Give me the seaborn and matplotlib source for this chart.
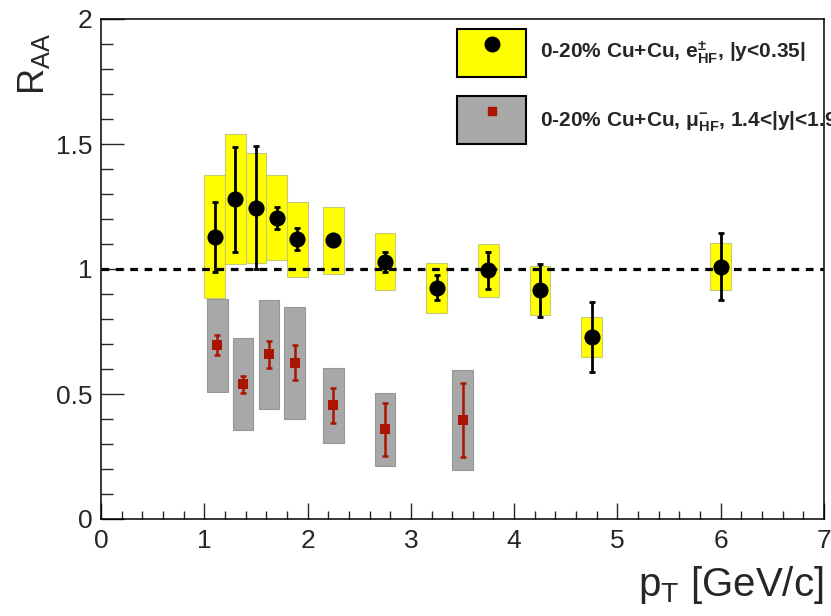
import numpy as np
import pandas as pd
import matplotlib
matplotlib.use("Agg")
import matplotlib.pyplot as plt
import seaborn as sns
from matplotlib.patches import Rectangle
from matplotlib.lines import Line2D
from matplotlib.legend_handler import HandlerTuple
from matplotlib.ticker import MultipleLocator

# Heavy-flavour electrons, |y| < 0.35
e_pt = [1.1, 1.3, 1.5, 1.7, 1.9, 2.25, 2.75, 3.25, 3.75, 4.25, 4.75, 6.0]
e_raa = [1.13, 1.28, 1.245, 1.205, 1.12, 1.115, 1.03, 0.925, 0.995, 0.915, 0.73, 1.01]
e_stat = [0.14, 0.21, 0.245, 0.045, 0.045, 0.01, 0.04, 0.05, 0.075, 0.105, 0.14, 0.135]
e_syst = [0.245, 0.26, 0.22, 0.17, 0.15, 0.135, 0.115, 0.10, 0.105, 0.098, 0.08, 0.094]

# Heavy-flavour muons, 1.4 < |y| < 1.9
mu_pt = [1.125, 1.375, 1.625, 1.875, 2.25, 2.75, 3.5]
mu_raa = [0.695, 0.54, 0.66, 0.625, 0.455, 0.36, 0.395]
mu_stat = [0.04, 0.034, 0.054, 0.07, 0.07, 0.106, 0.148]
mu_syst = [0.186, 0.184, 0.218, 0.224, 0.15, 0.146, 0.20]

e_label = r"0-20% Cu+Cu, $\mathbf{e^{\pm}_{HF}}$, |y<0.35|"
mu_label = r"0-20% Cu+Cu, $\mathbf{\mu^{-}_{HF}}$, 1.4<|y|<1.9"

x_ticks = [0, 1, 2, 3, 4, 5, 6, 7]
y_ticks = [0, 0.5, 1, 1.5, 2]
y_tick_labels = ["0", "0.5", "1", "1.5", "2"]

sns.set_style("white")
plt.rcParams["font.family"] = ["Liberation Sans", "DejaVu Sans"]
plt.rcParams["mathtext.fontset"] = "custom"
plt.rcParams["mathtext.rm"] = "Liberation Sans"
plt.rcParams["mathtext.it"] = "Liberation Sans:italic"
plt.rcParams["mathtext.bf"] = "Liberation Sans:bold"

df_e = pd.DataFrame({"pt": e_pt, "raa": e_raa, "stat": e_stat, "syst": e_syst})
df_mu = pd.DataFrame({"pt": mu_pt, "raa": mu_raa, "stat": mu_stat, "syst": mu_syst})

W, H = 831, 616
fig = plt.figure(figsize=(W / 100, H / 100), dpi=100)
ax = fig.add_axes([101 / W, 1 - 519 / H, (824 - 101) / W, (519 - 19) / H])

yellow = "#ffff00"
gray = "#a8a8a8"
red = "#aa1400"

# systematic boxes
ax.bar(df_e["pt"], 2 * df_e["syst"], bottom=df_e["raa"] - df_e["syst"], width=0.2,
       color=yellow, edgecolor="#c8c878", linewidth=0.8, zorder=1)
ax.bar(df_mu["pt"], 2 * df_mu["syst"], bottom=df_mu["raa"] - df_mu["syst"], width=0.2,
       color=gray, edgecolor="#969696", linewidth=0.8, zorder=1)

# unity reference line
ax.axhline(1.0, color="black", lw=2.3, ls=(0, (2.4, 2.1)), zorder=3)

# statistical errors
ax.errorbar(df_e["pt"], df_e["raa"], yerr=df_e["stat"], fmt="none", ecolor="black",
            elinewidth=2.0, capsize=2.3, capthick=2.0, zorder=4)
ax.errorbar(df_mu["pt"], df_mu["raa"], yerr=df_mu["stat"], fmt="none", ecolor=red,
            elinewidth=1.8, capsize=2.3, capthick=1.8, zorder=4)

# central values
sns.scatterplot(data=df_e, x="pt", y="raa", marker="o", s=135, color="black",
                edgecolor="black", linewidth=0, ax=ax, zorder=5)
sns.scatterplot(data=df_mu, x="pt", y="raa", marker="s", s=60, color=red,
                edgecolor=red, linewidth=0, ax=ax, zorder=5)

ax.set_xlim(0, 7)
ax.set_ylim(0, 2)
ax.set_xticks(x_ticks)
ax.set_yticks(y_ticks)
ax.set_yticklabels(y_tick_labels)
ax.xaxis.set_minor_locator(MultipleLocator(0.2))
ax.yaxis.set_minor_locator(MultipleLocator(0.1))
ax.tick_params(axis="x", which="major", direction="in", length=11.5, width=1.0,
               labelsize=19, pad=7, bottom=True, top=False)
ax.tick_params(axis="x", which="minor", direction="in", length=6, width=1.0,
               bottom=True, top=False)
ax.tick_params(axis="y", which="major", direction="in", length=16.5, width=1.0,
               labelsize=19, pad=6, left=True, right=False)
ax.tick_params(axis="y", which="minor", direction="in", length=8.5, width=1.0,
               left=True, right=False)
for sp in ax.spines.values():
    sp.set_visible(True)
    sp.set_color("black")
    sp.set_linewidth(1.1)

ax.set_xlabel(r"$\mathregular{p_{T}}$ [GeV/c]", fontsize=29, loc="right", labelpad=8)
ax.set_ylabel(r"$\mathregular{R_{AA}}$", fontsize=26, loc="top")
ax.yaxis.set_label_coords(-0.068, 0.972)

# legend: box with marker overlaid
h_e = (Rectangle((0, 0), 1, 1, facecolor=yellow, edgecolor="black", linewidth=1.5),
       Line2D([], [], marker="o", ls="none", color="black", markersize=10.5))
h_mu = (Rectangle((0, 0), 1, 1, facecolor=gray, edgecolor="black", linewidth=1.5),
        Line2D([], [], marker="s", ls="none", color=red, markersize=5.5))
fs = 15
fs_px = fs * 100 / 72
box_h_pt = 48.5 * 72 / 100
hh = (box_h_pt / fs - 0.245) / 0.65
leg = fig.legend([h_e, h_mu], [e_label, mu_label],
                 handler_map={tuple: HandlerTuple(ndivide=1)},
                 loc="upper left", bbox_to_anchor=(457 / W, 1 - 28.5 / H),
                 frameon=False, borderpad=0, borderaxespad=0,
                 prop={"weight": "bold", "size": fs},
                 handlelength=69 / fs_px, handleheight=hh,
                 handletextpad=14 / fs_px, labelspacing=19 / fs_px)

fig.savefig("out.png", dpi=100)
